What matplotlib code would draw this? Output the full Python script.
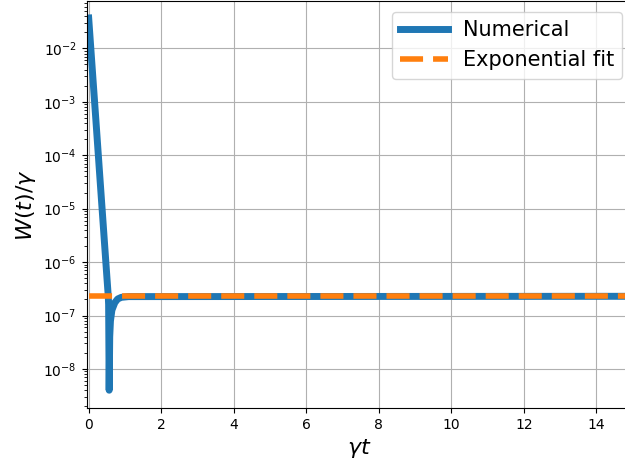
import matplotlib.pyplot as plt
import numpy as np

# values (gamma*t, W/gamma)
t_num = [0.0, 0.1, 0.2, 0.3, 0.4, 0.5, 0.54, 0.55, 0.565, 0.58, 0.6, 0.64,
         0.72, 0.8, 0.9, 1.1, 15.0]
w_num = [3.7e-2, 4.0e-3, 4.4e-4, 4.7e-5, 5.1e-6, 5.5e-7, 2.3e-7, 1.6e-7,
         4.0e-9, 4.0e-8, 7.9e-8, 1.26e-7, 1.74e-7, 2.04e-7, 2.19e-7,
         2.26e-7, 2.29e-7]
t_fit = [0.0, 15.0]
w_fit = [2.29e-7, 2.29e-7]

fig = plt.figure(figsize=(6.25, 4.65), dpi=100)
ax = fig.add_axes([0.1384, 0.1226, 0.874, 0.8746])

ax.plot(t_num, w_num, color='tab:blue', lw=5, label='Numerical')
ax.plot(t_fit, w_fit, '--', color='tab:orange', lw=4, dashes=(4.15, 1.8),
        label='Exponential fit')

ax.set_yscale('log')
ax.set_xlim(-0.06, 15.0)
ax.set_ylim(1.86e-9, 7.6e-2)
ax.set_xticks(np.arange(0, 16, 2))
ax.grid(True, which='major', color='#b0b0b0', lw=0.8)

ax.set_xlabel(r'$\gamma t$', fontsize=16)
ax.set_ylabel(r'$W(t)/\gamma$', fontsize=16)
ax.legend(loc='upper right', fontsize=15, handlelength=2.3, handletextpad=0.7)

fig.savefig('out.png', dpi=100)
